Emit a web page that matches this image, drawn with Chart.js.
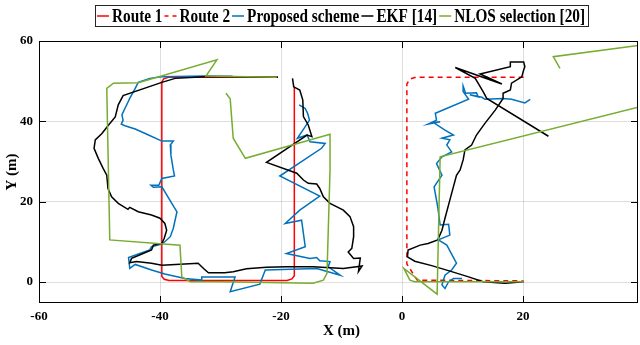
<!DOCTYPE html>
<html>
<head>
<meta charset="utf-8">
<script src="https://cdn.jsdelivr.net/npm/chart.js@4.4.0/dist/chart.umd.min.js"></script>
<style>
  body { margin: 0; background: #fff; }
</style>
</head>
<body>
<canvas id="trackChart" width="640" height="345"></canvas>
<script>
// assi
const xTicks = [-60, -40, -20, 0, 20];
const yTicks = [0, 20, 40, 60];
const seriesNames = ['Route 1', 'Route 2', 'Proposed scheme', 'EKF [14]', 'NLOS selection [20]'];

// percorsi di riferimento (x, y in metri)
const route1 = [[-20.5,51.0],[-38.6,51.0],[-39.4,50.6],[-39.7,49.8],[-39.7,1.4],[-39.3,0.7],[-38.5,0.4],[-19.0,0.4],[-18.2,0.8],[-17.8,1.6],[-17.8,48.6]];
const route2 = [[20.1,51.0],[2.3,51.0],[1.3,50.5],[0.8,49.3],[0.8,4.5],[2.5,0.5],[20.1,0.3]];

// proposed scheme
const proposed1 = [[-28.0,51.2],[-32.6,51.3],[-39.7,51.1],[-41.7,50.7],[-43.6,49.7],[-44.1,48.2],[-45.0,45.7],[-45.8,43.2],[-46.3,41.6],[-46.1,40.3],[-46.4,39.3],[-45.8,38.9],[-44.1,38.1],[-41.9,36.6],[-39.7,35.1],[-37.8,35.1],[-38.3,34.1],[-38.2,31.6],[-37.8,27.9],[-37.6,26.4],[-39.7,25.8],[-40.2,24.1],[-41.5,24.1],[-41.1,23.6],[-39.7,23.7],[-37.2,17.5],[-37.8,13.4],[-38.3,11.3],[-39.6,9.5],[-41.4,8.8],[-41.7,8.0],[-45.2,6.1],[-45.0,3.4],[-44.1,4.4],[-41.4,3.0],[-39.2,2.0],[-35.9,0.9],[-33.1,0.5],[-33.1,1.3],[-29.3,1.3],[-27.6,1.3],[-28.4,-2.4],[-23.5,-0.5],[-22.6,3.0],[-14.1,3.4],[-10.2,1.7],[-12.2,3.8],[-11.9,5.1],[-13.6,5.3],[-14.1,6.1],[-15.2,5.9],[-19.1,7.1],[-16.0,8.8],[-16.6,15.4],[-19.3,14.6],[-16.9,17.9],[-13.6,21.4],[-20.2,26.4],[-13.3,33.3],[-12.7,34.5],[-15.2,34.9],[-15.7,36.6],[-17.3,35.8],[-16.0,38.7],[-15.3,40.3],[-15.6,42.0],[-16.0,43.2],[-17.0,44.1]];
const proposed2 = [[9.9,0.9],[8.5,0.9],[7.7,0.1],[7.1,-1.6],[6.6,-0.7],[7.1,1.7],[8.2,3.0],[9.0,4.7],[7.4,9.2],[6.0,10.5],[7.9,11.7],[7.7,14.4],[6.3,14.2],[5.9,18.7],[5.3,23.7],[6.6,26.6],[5.7,29.5],[6.6,31.2],[8.2,32.4],[7.4,34.1],[7.9,35.4],[6.6,35.8],[8.5,36.6],[7.1,37.8],[5.2,39.7],[6.3,39.9],[4.3,39.3],[5.7,40.3],[5.5,42.0],[11.0,45.5],[10.1,47.4],[10.1,48.8],[10.5,47.0],[12.3,47.1],[12.6,46.1],[11.2,46.6],[13.2,46.0],[13.7,45.5],[16.7,45.7],[18.1,45.5],[20.3,44.6],[21.2,45.5]];

// EKF
const ekf1 = [[-20.5,51.0],[-29.3,51.1],[-32.6,51.1],[-37.5,50.7],[-39.7,49.7],[-46.1,46.4],[-46.9,44.1],[-47.4,41.1],[-48.5,39.1],[-49.6,37.0],[-50.7,35.4],[-50.9,33.3],[-50.2,30.8],[-49.4,28.3],[-48.8,26.6],[-48.6,23.3],[-48.0,21.2],[-46.9,19.6],[-45.3,18.1],[-45.0,18.6],[-43.6,17.5],[-41.4,16.7],[-40.0,15.9],[-39.2,14.6],[-38.9,12.9],[-39.3,10.9],[-39.7,9.6],[-41.1,9.2],[-41.4,8.0],[-43.0,7.0],[-44.7,5.9],[-45.0,4.8],[-43.9,5.1],[-41.4,4.7],[-39.7,4.2],[-35.9,4.5],[-33.7,4.7],[-32.8,3.4],[-32.0,2.3],[-29.3,2.3],[-27.9,2.6],[-25.7,3.3],[-22.4,3.7],[-19.1,3.8],[-14.7,3.8],[-9.7,3.4],[-6.6,4.0],[-7.2,2.6],[-6.9,6.0],[-8.0,5.9],[-8.9,7.5],[-8.3,8.4],[-8.0,11.3],[-8.0,13.8],[-8.6,16.3],[-9.7,17.9],[-11.9,19.6],[-13.0,21.2],[-13.6,23.3],[-14.1,24.4],[-15.5,24.6],[-16.3,25.4],[-17.4,27.1],[-22.4,29.8],[-15.7,36.6],[-14.9,36.2],[-15.5,39.1],[-16.3,41.2],[-16.4,45.3],[-16.9,47.8],[-17.9,48.6],[-18.1,50.7]];
const ekf2 = [[20.1,0.1],[17.0,-0.3],[13.4,0.1],[11.0,1.3],[8.2,2.6],[4.9,4.1],[2.1,5.2],[0.9,6.3],[1.0,8.0],[3.0,9.2],[4.3,9.6],[5.9,10.5],[6.6,12.9],[7.1,15.9],[7.9,20.4],[9.0,26.6],[9.6,27.9],[10.1,30.4],[10.4,32.9],[11.5,34.1],[12.3,36.6],[13.7,39.5],[15.4,42.8],[16.7,45.7],[16.7,47.0],[17.9,47.8],[18.1,49.5],[19.8,51.1],[20.1,52.8],[20.3,53.6],[20.1,54.8],[17.9,54.8],[17.9,53.6],[12.9,51.8],[16.5,49.3],[8.8,53.4],[12.1,50.7],[13.4,47.4],[14.0,45.7],[24.2,36.3]];

// NLOS selection (esce dal grafico a destra e rientra)
const nlos1 = [[-20.7,51.0],[-32.4,51.3],[-30.6,55.3],[-43.6,49.6],[-47.7,49.5],[-48.8,48.2],[-48.3,10.5],[-36.7,9.2],[-36.4,1.3],[-35.0,0.1],[-30.1,0.1],[-14.7,-0.3],[-13.0,0.5],[-12.4,2.2],[-11.9,27.9],[-11.9,36.8],[-25.9,30.8],[-27.9,35.8],[-28.4,45.6],[-29.1,47.0]];
const nlos2 = [[20.1,0.1],[2.1,0.1],[1.3,0.5],[0.3,3.4],[5.8,-3.0],[6.3,31.2],[60.0,51.4],[60.0,63.1],[25.0,56.1],[26.1,53.2]];

const colors = ['#ff0000', '#ff0000', '#0072bd', '#000000', '#77ac30'];
const FONT = '"Liberation Serif", "Times New Roman", serif';

function toPoints(arr) {
    return arr.map(function(p) { return { x: p[0], y: p[1] }; });
}

function makeSet(label, data, i, show) {
    return {
        label: label,
        data: toPoints(data),
        showLine: true,
        borderColor: colors[i],
        backgroundColor: colors[i],
        borderWidth: 1.5,
        borderDash: i === 1 ? [5, 4] : [],
        pointRadius: 0,
        tension: 0,
        order: 5 - i,
        inLegend: show
    };
}

// legenda in un riquadro, testo un po' stretto come nell'originale
const boxLegend = {
    id: 'boxLegend',
    afterDraw(chart) {
        const ctx = chart.ctx;
        const a = chart.chartArea;
        const items = chart.data.datasets.filter(function(d) { return d.inLegend; });
        const sx = 0.85, lineLen = 12, cy = 16;
        ctx.save();
        ctx.font = 'bold 18px ' + FONT;
        let widths = items.map(function(d) { return lineLen + 3 + ctx.measureText(d.label).width * sx + 2; });
        let total = widths.reduce(function(s, w) { return s + w; }, 0) + 3;
        let left = (a.left + a.right) / 2 - total / 2 + 3;
        ctx.strokeStyle = '#262626';
        ctx.lineWidth = 1;
        ctx.strokeRect(Math.round(left) + 0.5, 5.5, Math.round(total), 21);
        let xx = left + 2;
        items.forEach(function(d, k) {
            ctx.beginPath();
            ctx.strokeStyle = d.borderColor;
            ctx.lineWidth = 1.5;
            ctx.setLineDash(d.borderDash.length ? [4, 4] : []);
            ctx.moveTo(xx, cy);
            ctx.lineTo(xx + lineLen, cy);
            ctx.stroke();
            ctx.setLineDash([]);
            ctx.save();
            ctx.translate(xx + lineLen + 3, cy + 1);
            ctx.scale(sx, 1);
            ctx.fillStyle = '#000';
            ctx.textBaseline = 'middle';
            ctx.fillText(d.label, 0, 0);
            ctx.restore();
            xx += widths[k];
        });
        ctx.restore();
    }
};

// riquadro, tacche interne e titoli degli assi
const axisFrame = {
    id: 'axisFrame',
    afterDraw(chart) {
        const ctx = chart.ctx;
        const a = chart.chartArea;
        const sx = chart.scales.x, sy = chart.scales.y;
        const t = 7;
        ctx.save();
        ctx.strokeStyle = '#000';
        ctx.lineWidth = 1;
        ctx.strokeRect(a.left + 0.5, a.top + 0.5, a.right - a.left - 1, a.bottom - a.top - 1);
        ctx.beginPath();
        xTicks.forEach(function(v) {
            const px = Math.round(sx.getPixelForValue(v)) + 0.5;
            ctx.moveTo(px, a.bottom); ctx.lineTo(px, a.bottom - t);
            ctx.moveTo(px, a.top); ctx.lineTo(px, a.top + t);
        });
        yTicks.forEach(function(v) {
            const py = Math.round(sy.getPixelForValue(v)) + 0.5;
            ctx.moveTo(a.left, py); ctx.lineTo(a.left + t, py);
            ctx.moveTo(a.right, py); ctx.lineTo(a.right - t, py);
        });
        ctx.stroke();

        ctx.fillStyle = '#000';
        ctx.font = 'bold 15px ' + FONT;
        ctx.textAlign = 'center';
        ctx.textBaseline = 'middle';
        ctx.fillText('X (m)', (a.left + a.right) / 2 + 3, 331);
        ctx.translate(12, (a.top + a.bottom) / 2);
        ctx.rotate(-Math.PI / 2);
        ctx.fillText('Y (m)', 0, 0);
        ctx.restore();
    }
};

document.addEventListener("DOMContentLoaded", function() {
    const datasets = [
        makeSet(seriesNames[0], route1, 0, true),
        makeSet(seriesNames[1], route2, 1, true),
        makeSet(seriesNames[2], proposed1, 2, true),
        makeSet(seriesNames[3], ekf1, 3, true),
        makeSet(seriesNames[4], nlos1, 4, true),
        makeSet(seriesNames[2], proposed2, 2, false),
        makeSet(seriesNames[3], ekf2, 3, false),
        makeSet(seriesNames[4], nlos2, 4, false)
    ];

    const gridStyle = { color: 'rgba(0,0,0,0.13)', lineWidth: 1, drawTicks: false };
    const tickFont = { family: FONT, size: 13, weight: 'bold' };

    const config = {
        type: 'scatter',
        data: { datasets: datasets },
        options: {
            responsive: false,
            animation: false,
            devicePixelRatio: 1,
            layout: { padding: { top: 41, right: 2, left: 0, bottom: 0 } },
            plugins: {
                legend: { display: false },
                tooltip: { enabled: false }
            },
            scales: {
                x: {
                    type: 'linear',
                    min: -60,
                    max: 39,
                    grid: gridStyle,
                    border: { display: false },
                    ticks: { color: '#000', font: tickFont, padding: 6, maxRotation: 0 },
                    afterBuildTicks: function(s) { s.ticks = xTicks.map(function(v) { return { value: v }; }); },
                    afterFit: function(s) { s.height = 42; }
                },
                y: {
                    type: 'linear',
                    min: -5.2,
                    max: 60,
                    grid: gridStyle,
                    border: { display: false },
                    ticks: { color: '#000', font: tickFont, padding: 6 },
                    afterBuildTicks: function(s) { s.ticks = yTicks.map(function(v) { return { value: v }; }); },
                    afterFit: function(s) { s.width = 39; }
                }
            }
        },
        plugins: [axisFrame, boxLegend]
    };

    new Chart(document.getElementById('trackChart').getContext('2d'), config);
});
</script>
</body>
</html>
